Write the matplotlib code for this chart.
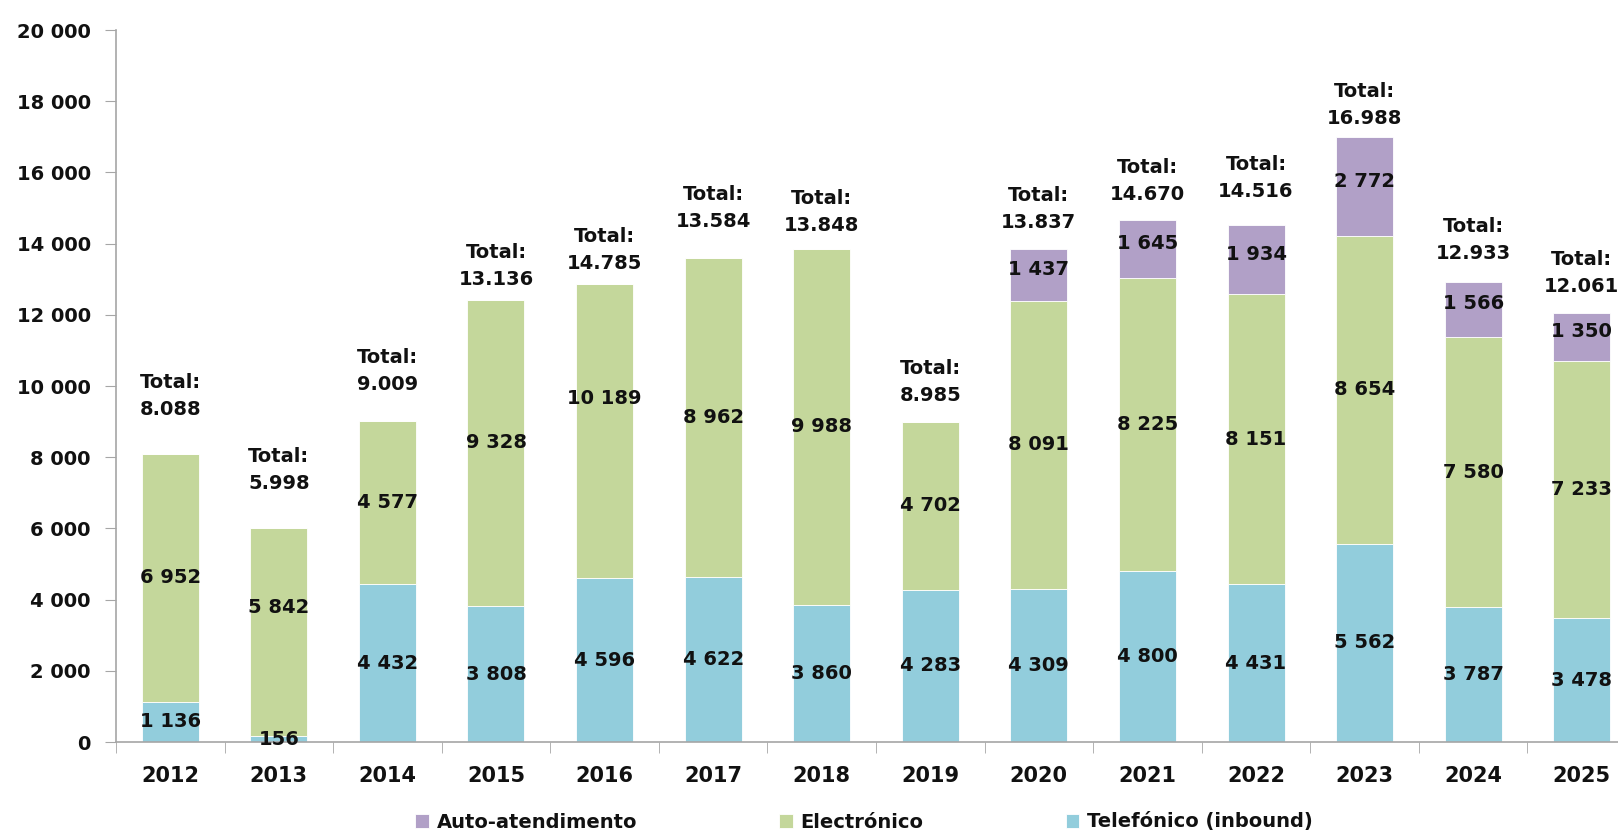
import numpy as np
import matplotlib.pyplot as plt

plt.rcParams['font.family'] = ['DejaVu Sans']
plt.rcParams['font.weight'] = 'bold'

years = ['2012', '2013', '2014', '2015', '2016', '2017', '2018',
         '2019', '2020', '2021', '2022', '2023', '2024', '2025']
# alturas desenhadas (2015 e 2016 no original não batem com as etiquetas)
telefonico = [1136, 156, 4432, 3808, 4596, 4622, 3860, 4283, 4309, 4800, 4431, 5562, 3787, 3478]
electronico = [6952, 5842, 4577, 8608, 8269, 8962, 9988, 4702, 8091, 8225, 8151, 8654, 7580, 7233]
auto_atend = [0, 0, 0, 0, 0, 0, 0, 0, 1437, 1645, 1934, 2772, 1566, 1350]

tel_labels = ['1 136', '156', '4 432', '3 808', '4 596', '4 622', '3 860', '4 283',
              '4 309', '4 800', '4 431', '5 562', '3 787', '3 478']
ele_labels = ['6 952', '5 842', '4 577', '9 328', '10 189', '8 962', '9 988', '4 702',
              '8 091', '8 225', '8 151', '8 654', '7 580', '7 233']
aut_labels = ['', '', '', '', '', '', '', '', '1 437', '1 645', '1 934', '2 772', '1 566', '1 350']
total_labels = ['8.088', '5.998', '9.009', '13.136', '14.785', '13.584', '13.848',
                '8.985', '13.837', '14.670', '14.516', '16.988', '12.933', '12.061']

c_tel = '#92CDDC'
c_ele = '#C4D79B'
c_aut = '#B1A0C7'

fig = plt.figure(figsize=(16.18, 8.36), dpi=100)
ax = fig.add_axes([116 / 1618, 1 - 742 / 836, 1520 / 1618, 712 / 836])

x = np.arange(len(years))
tel = np.array(telefonico)
ele = np.array(electronico)
aut = np.array(auto_atend)
w = 0.525

ax.bar(x, tel, w, color=c_tel, edgecolor='white', linewidth=0.6, label='Telefónico (inbound)')
ax.bar(x, ele, w, bottom=tel, color=c_ele, edgecolor='white', linewidth=0.6, label='Electrónico')
ax.bar(x, aut, w, bottom=tel + ele, color=c_aut, edgecolor='white', linewidth=0.6, label='Auto-atendimento')

fs = 14
tc = '#111111'
# desvios manuais (px) das etiquetas do electrónico
ele_nudge = {1: 25, 3: 11, 4: 33}
for i in x:
    ax.annotate(tel_labels[i], (i, tel[i] / 2), xytext=(0, 0), textcoords='offset points',
                ha='center', va='center', fontsize=fs, fontweight='bold', color=tc)
    ax.annotate(ele_labels[i], (i, tel[i] + ele[i] / 2), xytext=(0, ele_nudge.get(i, 0) * 0.72),
                textcoords='offset points', ha='center', va='center', fontsize=fs,
                fontweight='bold', color=tc)
    if aut[i] > 0:
        ax.annotate(aut_labels[i], (i, tel[i] + ele[i] + aut[i] / 2), xytext=(0, 4),
                    textcoords='offset points', ha='center', va='center', fontsize=fs,
                    fontweight='bold', color=tc)

# distância (px) entre o topo da barra e o valor total
total_gap = [45, 45, 37, 20, 21, 37, 24, 27, 27, 25, 34, 19, 28, 26]
top = tel + ele + aut
for i in x:
    g = total_gap[i] * 0.72
    ax.annotate(total_labels[i], (i, top[i]), xytext=(0, g), textcoords='offset points',
                ha='center', va='center', fontsize=fs, fontweight='bold', color=tc)
    ax.annotate('Total:', (i, top[i]), xytext=(0, g + 27 * 0.72), textcoords='offset points',
                ha='center', va='center', fontsize=fs, fontweight='bold', color=tc)

ax.set_xlim(-0.5, 13.5)
ax.set_ylim(0, 20000)
ax.set_yticks(range(0, 20001, 2000))
ax.set_yticklabels([f'{v:,}'.replace(',', ' ') for v in range(0, 20001, 2000)])
ax.set_xticks(x)
ax.set_xticklabels(years)
ax.set_xticks(np.arange(-0.5, 14, 1), minor=True)
ax.tick_params(axis='x', which='major', length=0, pad=17, labelsize=15, labelcolor=tc)
ax.tick_params(axis='x', which='minor', length=8, color='#A6A6A6', direction='out')
ax.tick_params(axis='y', length=8, color='#A6A6A6', labelsize=14, pad=10, labelcolor=tc)
for lbl in ax.get_xticklabels() + ax.get_yticklabels():
    lbl.set_fontweight('bold')

ax.spines['top'].set_visible(False)
ax.spines['right'].set_visible(False)
ax.spines['left'].set_color('#A6A6A6')
ax.spines['bottom'].set_color('#A6A6A6')
ax.spines['left'].set_linewidth(1.2)
ax.spines['bottom'].set_linewidth(1.2)

handles, labels = ax.get_legend_handles_labels()
leg = fig.legend(handles[::-1], labels[::-1], loc='center', bbox_to_anchor=(0.534, 1 - 822 / 836),
                 ncol=3, frameon=False, handlelength=0.7, handleheight=0.7,
                 handletextpad=0.4, columnspacing=7.3, prop={'weight': 'bold', 'size': fs})
for t in leg.get_texts():
    t.set_color(tc)

fig.savefig('out.png', dpi=100)
